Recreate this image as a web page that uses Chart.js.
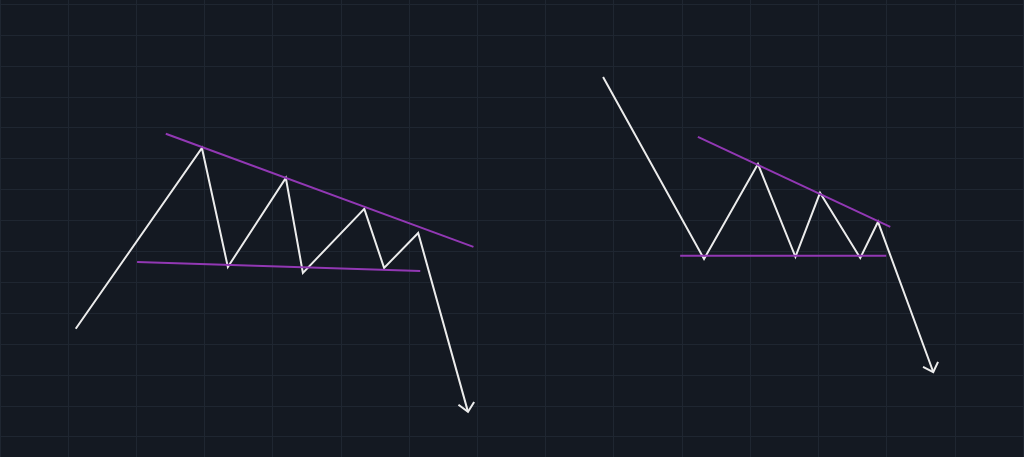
<!DOCTYPE html>
<html>
<head>
<meta charset="utf-8">
<script src="https://cdn.jsdelivr.net/npm/chart.js@4/dist/chart.umd.min.js"></script>
<style>
  html, body { margin: 0; padding: 0; background: #141922; }
  #wrap { width: 1024px; height: 457px; }
</style>
</head>
<body>
<div id="wrap"><canvas id="chart" width="1024" height="457"></canvas></div>
<script>
// Grid ticks (one cell per unit)
const xTicks = [0, 1, 2, 3, 4, 5, 6, 7, 8, 9, 10, 11, 12, 13, 14, 15];
const yTicks = [0, 1, 2, 3, 4, 5, 6, 7, 8, 9, 10, 11, 12, 13, 14];

// Left pattern: descending triangle breakout
const leftPrice = [
  { x: 1.11, y: 3.50 },
  { x: 2.96, y: 9.35 },
  { x: 3.34, y: 5.50 },
  { x: 4.19, y: 8.38 },
  { x: 4.44, y: 5.31 },
  { x: 5.34, y: 7.38 },
  { x: 5.63, y: 5.47 },
  { x: 6.13, y: 6.60 },
  { x: 6.86, y: 0.81 },
];
const leftArrow = [
  { x: 6.72, y: 1.04 },
  { x: 6.86, y: 0.81 },
  { x: 6.95, y: 1.13 },
];
const leftUpper = [
  { x: 2.43, y: 9.81 },
  { x: 6.94, y: 6.15 },
];
const leftLower = [
  { x: 2.01, y: 5.66 },
  { x: 6.16, y: 5.37 },
];

// Right pattern
const rightPrice = [
  { x: 8.84, y: 11.65 },
  { x: 10.32, y: 5.76 },
  { x: 11.11, y: 8.83 },
  { x: 11.66, y: 5.83 },
  { x: 12.02, y: 7.90 },
  { x: 12.61, y: 5.79 },
  { x: 12.87, y: 6.96 },
  { x: 13.68, y: 2.10 },
];
const rightArrow = [
  { x: 13.53, y: 2.27 },
  { x: 13.68, y: 2.10 },
  { x: 13.75, y: 2.43 },
];
const rightUpper = [
  { x: 10.23, y: 9.71 },
  { x: 13.05, y: 6.80 },
];
const rightLower = [
  { x: 9.97, y: 5.86 },
  { x: 12.99, y: 5.86 },
];

const white = "#ececec";
const purple = "#9238b4";

function line(data, color) {
  return {
    data: data,
    showLine: true,
    borderColor: color,
    borderWidth: 2,
    borderJoinStyle: "miter",
    pointRadius: 0,
    tension: 0,
  };
}

new Chart(document.getElementById("chart").getContext("2d"), {
  type: "scatter",
  data: {
    datasets: [
      line(leftUpper, purple),
      line(leftLower, purple),
      line(rightUpper, purple),
      line(rightLower, purple),
      line(leftPrice, white),
      line(leftArrow, white),
      line(rightPrice, white),
      line(rightArrow, white),
    ],
  },
  options: {
    responsive: false,
    animation: false,
    layout: { padding: 0 },
    plugins: {
      legend: { display: false },
      tooltip: { enabled: false },
    },
    scales: {
      x: {
        type: "linear",
        min: 0,
        max: 15.01,
        afterBuildTicks: (scale) => {
          scale.ticks = xTicks.map((v) => ({ value: v }));
        },
        ticks: { display: false },
        border: { display: false },
        grid: { color: "#1f2631", lineWidth: 1, drawTicks: false },
      },
      y: {
        type: "linear",
        min: -0.65,
        max: 14.14,
        afterBuildTicks: (scale) => {
          scale.ticks = yTicks.map((v) => ({ value: v }));
        },
        ticks: { display: false },
        border: { display: false },
        grid: { color: "#1f2631", lineWidth: 1, drawTicks: false },
      },
    },
  },
});
</script>
</body>
</html>
